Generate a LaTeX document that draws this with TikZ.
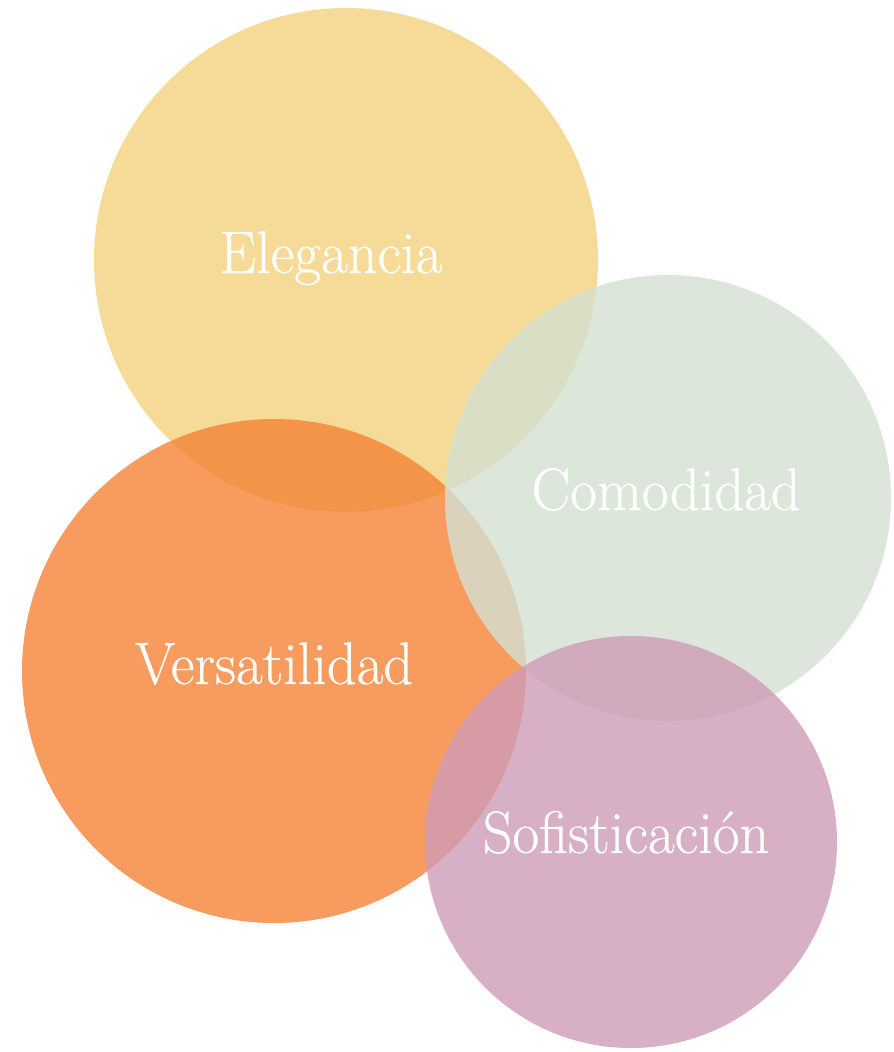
\documentclass[tikz,border=0pt]{standalone}
\usepackage{fontspec}
\newfontfamily\lblfont{Latin Modern Roman}[FakeBold=0.4]
\definecolor{cyellow}{RGB}{244,210,126}
\definecolor{corange}{RGB}{245,131,54}
\definecolor{cgreen}{RGB}{212,224,209}
\definecolor{cpink}{RGB}{206,156,183}
\tikzset{
  bubble/.style={fill=#1, fill opacity=0.8, draw=none},
  lbl/.style={text=white, anchor=base, inner sep=0pt, font=\lblfont\fontsize{60}{60}\selectfont}
}
\newcommand{\sq}[1]{\scalebox{0.97}[1]{#1}}
\begin{document}
\begin{tikzpicture}[x=1pt,y=-1pt]
\useasboundingbox (0,0) rectangle (894,1052);
\fill[bubble=cyellow] (346,260) circle (252);
\fill[bubble=corange] (274,671) circle (252);
\fill[bubble=cgreen] (668,498) circle (223);
\fill[bubble=cpink] (631,842) circle (206);
\node[lbl] (ele) at (331,273) {\sq{Elegancia}};
\node[lbl] (com) at (666,510) {\sq{Comodidad}};
\node[lbl] (ver) at (274,684) {\sq{Versatilidad}};
\node[lbl] (sof) at (626,853) {\sq{Sofisticación}};
\end{tikzpicture}
\end{document}
